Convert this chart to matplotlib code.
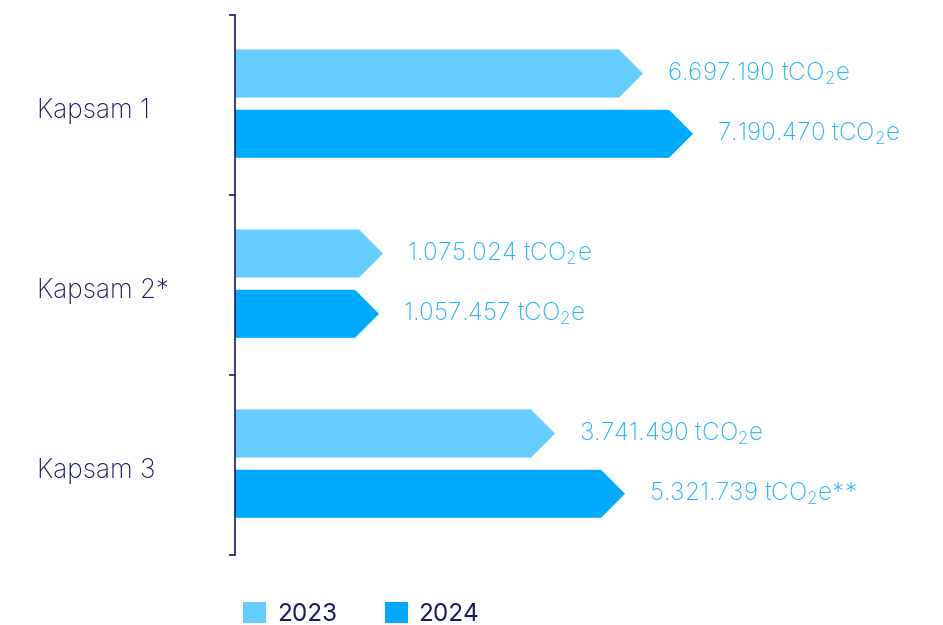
import matplotlib
matplotlib.use("Agg")
import matplotlib.pyplot as plt
import matplotlib.transforms as mtransforms
from matplotlib.patches import Polygon, Patch

plt.rcParams['font.family'] = ['Inter', 'DejaVu Sans']
plt.rcParams['mathtext.fontset'] = 'custom'
plt.rcParams['mathtext.rm'] = 'Inter'
plt.rcParams['mathtext.default'] = 'regular'

# Veriler
kapsamlar = ['Kapsam 1', 'Kapsam 2*', 'Kapsam 3']
yillar = ['2023', '2024']
etiket_2023 = ['6.697.190 tCO$_2$e', '1.075.024 tCO$_2$e', '3.741.490 tCO$_2$e']
etiket_2024 = ['7.190.470 tCO$_2$e', '1.057.457 tCO$_2$e', '5.321.739 tCO$_2$e**']
# çubuk uzunlukları (görselden okunan, göreli birim)
uzunluk_2023 = [408, 148, 320]
uzunluk_2024 = [458, 144, 390]

renk_2023 = '#66CCFF'
renk_2024 = '#00AAFF'
yazi_mavi = '#22B0F8'
lacivert = '#1B1B64'

fig = plt.figure(figsize=(9.43, 6.25), dpi=100)
ax = fig.add_axes([235/943, 70/625, 708/943, 540/625])
ax.set_xlim(0, 708)
ax.set_ylim(3, 0)

h = 0.267   # çubuk kalınlığı
uc = 24     # ok ucu uzunluğu


def ok_cubuk(y, L, renk):
    pts = [(0, y - h/2), (L - uc, y - h/2), (L, y), (L - uc, y + h/2), (0, y + h/2)]
    ax.add_patch(Polygon(pts, closed=True, facecolor=renk, edgecolor='none'))


for i in range(len(kapsamlar)):
    y1 = i + 0.325
    y2 = i + 0.66
    ok_cubuk(y1, uzunluk_2023[i], renk_2023)
    ok_cubuk(y2, uzunluk_2024[i], renk_2024)
    ax.text(uzunluk_2023[i] + 24, y1, etiket_2023[i], color=yazi_mavi,
            fontsize=17.5, va='center', ha='left', fontweight='light')
    ax.text(uzunluk_2024[i] + 24, y2, etiket_2024[i], color=yazi_mavi,
            fontsize=17.5, va='center', ha='left', fontweight='light')

# kategori etiketleri
tr = mtransforms.blended_transform_factory(fig.transFigure, ax.transData)
for i, k in enumerate(kapsamlar):
    ax.text(37/943, i + 0.535, k, transform=tr, color=lacivert, fontsize=18.8,
            va='center', ha='left', fontweight='light')

for s in ['top', 'right', 'bottom']:
    ax.spines[s].set_visible(False)
ax.spines['left'].set_color(lacivert)
ax.spines['left'].set_linewidth(1.2)
ax.set_xticks([])
ax.set_yticks([0, 1, 2, 3])
ax.set_yticklabels([])
ax.tick_params(axis='y', length=4.5, width=1.2, color=lacivert)

handles = [Patch(facecolor=renk_2023, edgecolor='none'),
           Patch(facecolor=renk_2024, edgecolor='none')]
fig.legend(handles, yillar, loc='upper left', bbox_to_anchor=(243/943, 1 - 602/625),
           ncol=2, frameon=False, fontsize=17.5, handlelength=0.95, handleheight=0.95,
           handletextpad=0.45, columnspacing=1.95, borderpad=0, borderaxespad=0,
           labelcolor=lacivert)

fig.savefig('out.png', dpi=100)
